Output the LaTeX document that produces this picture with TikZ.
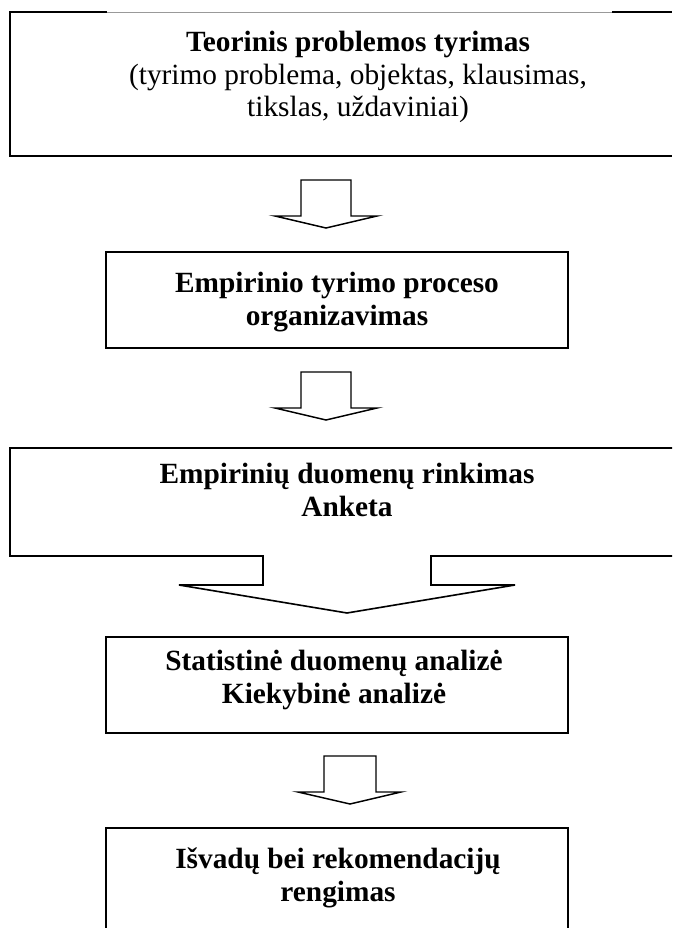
\documentclass[tikz,border=0pt]{standalone}
\usepackage{fontspec}
\setmainfont{Liberation Serif}
\begin{document}
\begin{tikzpicture}[x=0.75pt,y=-0.75pt,
  frame/.style={line width=1.2pt,line join=miter},
  thinframe/.style={line width=0.6pt,draw=black!40},
  blockarrow/.style={line width=1.1pt,line join=miter,fill=white},
  txt/.style={font=\fontsize{22}{24.5}\selectfont,align=center,inner sep=0pt},
  btxt/.style={txt,font=\fontsize{22}{24.5}\selectfont\bfseries}]
\useasboundingbox (0,0) rectangle (672,928);
% box 1
\draw[frame] (107,12) -- (10,12) -- (10,156) -- (672,156);
\draw[thinframe] (107,12) -- (612,12);
\draw[frame] (612,12) -- (672,12);
\node[txt] (t1) at (358,77) {\textbf{Teorinis problemos tyrimas}\\(tyrimo problema, objektas, klausimas,\\tikslas, uždaviniai)};
% arrow 1
\draw[blockarrow] (301,180) -- (351,180) -- (351,216) -- (377,216) -- (326,228) -- (275,216) -- (301,216) -- cycle;
% box 2
\draw[frame] (106,252) rectangle (568,348);
\node[btxt] (t2) at (337,302) {Empirinio tyrimo proceso\\organizavimas};
% arrow 2
\draw[blockarrow] (301,372) -- (351,372) -- (351,408) -- (377,408) -- (326,420) -- (275,408) -- (301,408) -- cycle;
% box 3 with big arrow
\draw[frame] (672,448) -- (10,448) -- (10,556) -- (263,556) -- (263,585) -- (179,585) -- (347,613) -- (515,585) -- (431,585) -- (431,556) -- (672,556);
\node[btxt] (t3) at (347,490) {Empirinių duomenų rinkimas\\Anketa};
% box 4
\draw[frame] (106,637) rectangle (568,733);
\node[btxt] (t4) at (334,680) {Statistinė duomenų analizė\\Kiekybinė analizė};
% arrow 4
\draw[blockarrow] (324,756) -- (376,756) -- (376,792) -- (401,792) -- (350,804) -- (298,792) -- (324,792) -- cycle;
% box 5
\draw[frame] (106,930) -- (106,828) -- (568,828) -- (568,930);
\node[btxt] (t5) at (338,878) {Išvadų bei rekomendacijų\\rengimas};
\end{tikzpicture}
\end{document}
